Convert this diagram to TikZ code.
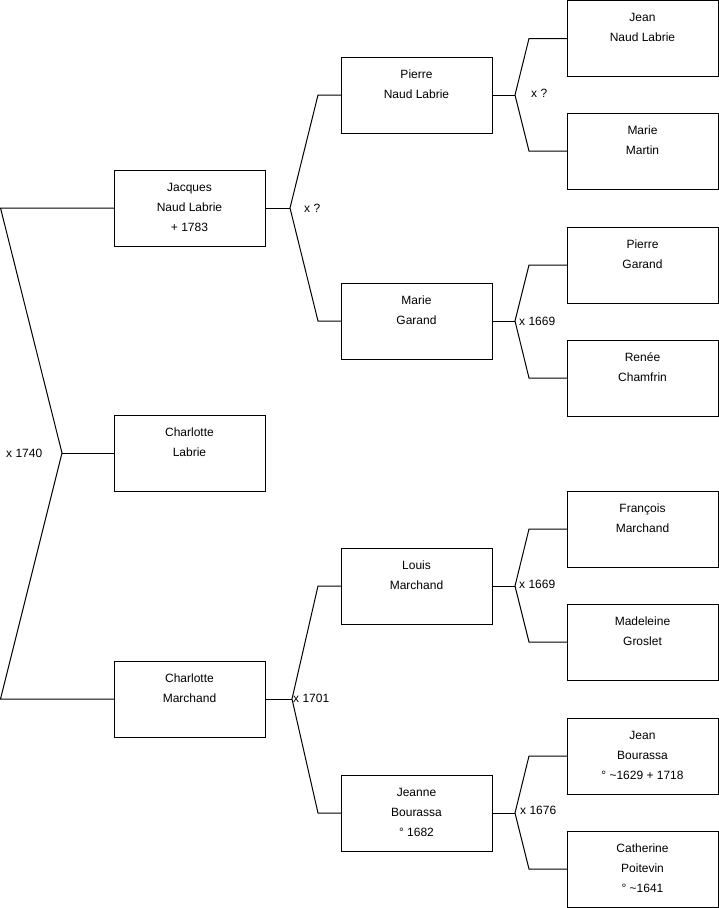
\documentclass[tikz,border=0pt]{standalone}
\usepackage{fontspec}
\setmainfont{Liberation Sans}
\newcommand\ptext[1]{\parbox[t][76pt][t]{151pt}{\centering\rule{0pt}{21pt}#1}}
\begin{document}
\begin{tikzpicture}[x=1pt,y=-1pt,
  every node/.style={font=\fontsize{12}{20}\selectfont},
  person/.style={draw=black, line width=1pt, inner sep=0pt, outer sep=0pt, anchor=north west},
  lbl/.style={inner sep=0pt, anchor=west},
  link/.style={line width=1pt, draw=black, line join=miter}]
\useasboundingbox (0,0) rectangle (719,908);

% level 1
\node[person] (jacques) at (114,170) {\ptext{Jacques\\Naud Labrie\\+ 1783}};
\node[person] (charlottel) at (114,415) {\ptext{Charlotte\\Labrie}};
\node[person] (charlottem) at (114,661) {\ptext{Charlotte\\Marchand}};
% level 2
\node[person] (pierre) at (341,57) {\ptext{Pierre\\Naud Labrie}};
\node[person] (marieg) at (341,283) {\ptext{Marie\\Garand}};
\node[person] (louis) at (341,548) {\ptext{Louis\\Marchand}};
\node[person] (jeanne) at (341,775) {\ptext{Jeanne\\Bourassa\\° 1682}};
% level 3
\node[person] (jean) at (567,0.5) {\ptext{Jean\\Naud Labrie}};
\node[person] (mariem) at (567,113) {\ptext{Marie\\Martin}};
\node[person] (pierreg) at (567,227) {\ptext{Pierre\\Garand}};
\node[person] (renee) at (567,340) {\ptext{Renée\\Chamfrin}};
\node[person] (francois) at (567,491) {\ptext{François\\Marchand}};
\node[person] (madeleine) at (567,604) {\ptext{Madeleine\\Groslet}};
\node[person] (jeanb) at (567,718) {\ptext{Jean\\Bourassa\\° \textasciitilde1629 + 1718}};
\node[person] (catherine) at (567,831) {\ptext{Catherine\\Poitevin\\° \textasciitilde1641}};

% level 1 connectors
\coordinate (e1a) at (0.5,208);
\coordinate (e1b) at (0.5,699);
\coordinate (m1) at (62,453);
\draw[link] (jacques.west) -- (e1a) -- (m1) -- (e1b) -- (charlottem.west);
\draw[link] (m1) -- (charlottel.west);
\node[lbl] (x1740) at (6,453) {x 1740};

% level 2 connectors
\coordinate (m2a) at (290,208);
\coordinate (e2a) at (318,95);
\coordinate (e2b) at (318,321);
\draw[link] (jacques.east) -- (m2a);
\draw[link] (pierre.west) -- (e2a) -- (m2a) -- (e2b) -- (marieg.west);
\node[lbl] (xq1) at (304,208) {x ?};

\coordinate (m2b) at (292,699);
\coordinate (e2c) at (318,586);
\coordinate (e2d) at (318,813);
\draw[link] (charlottem.east) -- (m2b);
\draw[link] (louis.west) -- (e2c) -- (m2b) -- (e2d) -- (jeanne.west);
\node[lbl] (x1701) at (293,698) {x 1701};

% level 3 connectors
\coordinate (m3a) at (515,95);
\coordinate (e3a) at (529,38.5);
\coordinate (e3b) at (529,151);
\draw[link] (pierre.east) -- (m3a);
\draw[link] (jean.west) -- (e3a) -- (m3a) -- (e3b) -- (mariem.west);
\node[lbl] (xq2) at (531,93) {x ?};

\coordinate (m3b) at (515,321);
\coordinate (e3c) at (529,265);
\coordinate (e3d) at (529,378);
\draw[link] (marieg.east) -- (m3b);
\draw[link] (pierreg.west) -- (e3c) -- (m3b) -- (e3d) -- (renee.west);
\node[lbl] (x1669a) at (519,321) {x 1669};

\coordinate (m3c) at (515,586);
\coordinate (e3e) at (529,529);
\coordinate (e3f) at (529,642);
\draw[link] (louis.east) -- (m3c);
\draw[link] (francois.west) -- (e3e) -- (m3c) -- (e3f) -- (madeleine.west);
\node[lbl] (x1669b) at (519,584) {x 1669};

\coordinate (m3d) at (515,813);
\coordinate (e3g) at (529,756);
\coordinate (e3h) at (529,869);
\draw[link] (jeanne.east) -- (m3d);
\draw[link] (jeanb.west) -- (e3g) -- (m3d) -- (e3h) -- (catherine.west);
\node[lbl] (x1676) at (520,810) {x 1676};
\end{tikzpicture}
\end{document}
